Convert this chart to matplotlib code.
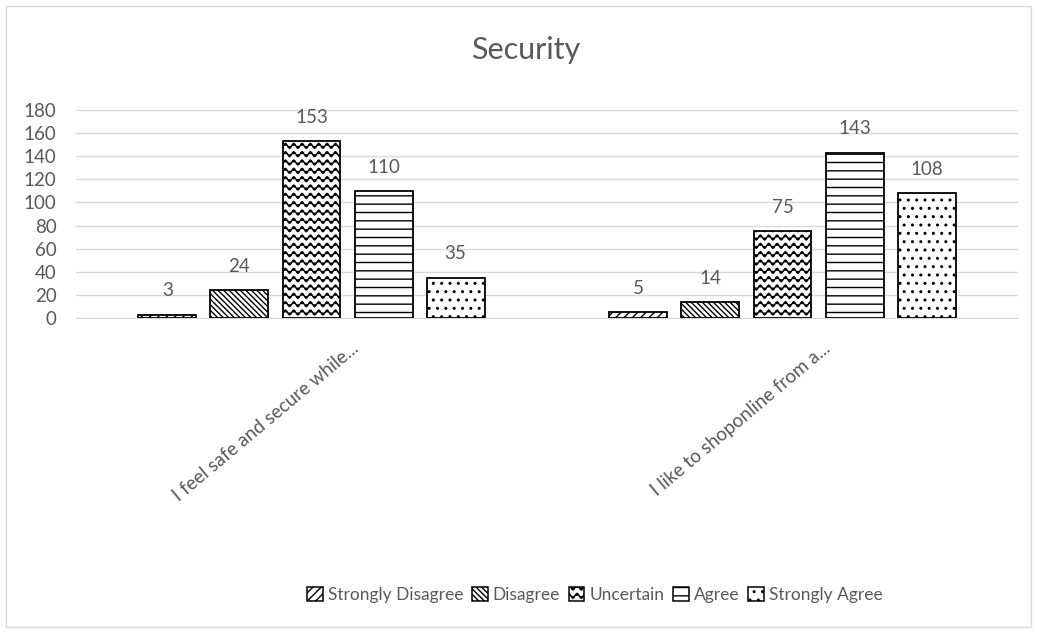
import numpy as np
import matplotlib
matplotlib.use("Agg")
import matplotlib.pyplot as plt
import matplotlib.hatch as mhatch
from matplotlib.path import Path
from matplotlib.patches import Rectangle, Patch
from matplotlib.transforms import ScaledTranslation

# data
questions = ["I feel safe and secure while...", "I like to shoponline from a..."]
responses = ["Strongly Disagree", "Disagree", "Uncertain", "Agree", "Strongly Agree"]
strongly_disagree = [3, 5]
disagree = [24, 14]
uncertain = [153, 75]
agree = [110, 143]
strongly_agree = [35, 108]
yticks = [0, 20, 40, 60, 80, 100, 120, 140, 160, 180]

series = [strongly_disagree, disagree, uncertain, agree, strongly_agree]
hatches = ["////", r"\\\\\\", "OO", "--", ".."]


# wavy rows for the "Uncertain" fill, hooked onto the 'O' hatch letter
class WaveHatch(mhatch.HatchPatternBase):
    def __init__(self, hatch, density):
        self.num_lines = int(hatch.count("O") * density)
        self.num_pts = 12 * 8 + 1
        self.num_vertices = self.num_lines * self.num_pts

    def set_vertices_and_codes(self, vertices, codes):
        step = 1.0 / self.num_lines
        x = np.linspace(0, 1, self.num_pts)
        for i in range(self.num_lines):
            sl = slice(i * self.num_pts, (i + 1) * self.num_pts)
            vertices[sl, 0] = x
            vertices[sl, 1] = step * (i + 0.5) + 0.3 * step * np.sin(2 * np.pi * 12 * x)
            codes[sl] = Path.LINETO
            codes[i * self.num_pts] = Path.MOVETO


mhatch._hatch_types[mhatch._hatch_types.index(mhatch.LargeCircles)] = WaveHatch

plt.rcParams["font.family"] = ["Lato", "DejaVu Sans"]
plt.rcParams["hatch.linewidth"] = 1.0
grey = "#595959"

fig = plt.figure(figsize=(10.37, 6.33), dpi=100)
ax = fig.add_axes([0.0733, 0.4976, 0.9084, 0.3286])

x = np.arange(len(questions))
width = 0.123
step = 0.153
for i, (vals, name, h) in enumerate(zip(series, responses, hatches)):
    bars = ax.bar(x + (i - 2) * step, vals, width, facecolor="white",
                  edgecolor="black", linewidth=1.3, hatch=h, label=name, zorder=3)
    ax.bar_label(bars, padding=11, color=grey, fontsize=13.5)

ax.set_xlim(-0.5, 1.5)
ax.set_ylim(0, 180)
ax.set_yticks(yticks)
ax.yaxis.grid(True, color="#d9d9d9", linewidth=1)
ax.set_axisbelow(True)
for s in ["top", "right", "left"]:
    ax.spines[s].set_visible(False)
ax.spines["bottom"].set_color("#d9d9d9")
ax.tick_params(axis="both", length=0, colors=grey, labelsize=13.5)
ax.tick_params(axis="y", pad=14)

ax.set_xticks(x)
ax.set_xticklabels(questions, rotation=40, ha="right", va="center",
                   rotation_mode="anchor")
ax.tick_params(axis="x", pad=20)
shift = ScaledTranslation(0.45, 0, fig.dpi_scale_trans)
for lab in ax.get_xticklabels():
    lab.set_transform(lab.get_transform() + shift)

fig.text(0.507, 1 - 50 / 633, "Security", ha="center", va="center",
         fontsize=22, color=grey)

handles = [Patch(facecolor="white", edgecolor="black", hatch=h, linewidth=1.1)
           for h in hatches]
fig.legend(handles, responses, loc="center", bbox_to_anchor=(595 / 1037, 1 - 595 / 633),
           ncol=5, frameon=False, fontsize=12.5, labelcolor=grey,
           handlelength=0.9, handleheight=0.9, handletextpad=0.3, columnspacing=0.5)

fig.patches.append(Rectangle((6 / 1037, 6 / 633), 1025 / 1037, 621 / 633,
                             transform=fig.transFigure, fill=False,
                             edgecolor="#d9d9d9", linewidth=1))

fig.savefig("out.png", dpi=100)
